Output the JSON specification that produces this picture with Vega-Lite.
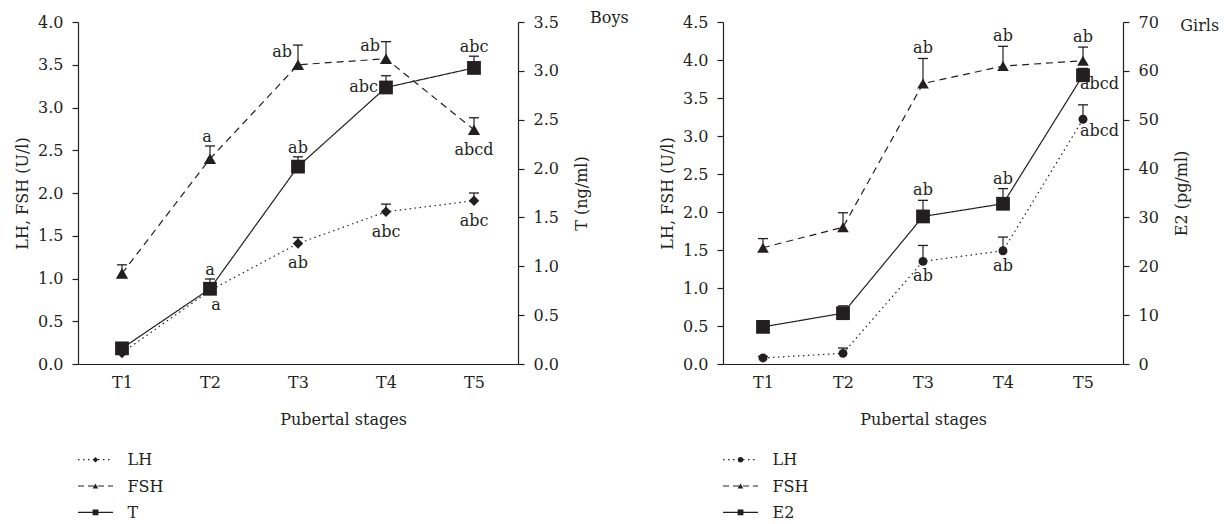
{
  "$schema": "https://vega.github.io/schema/vega-lite/v6.json",
  "padding": {"left": 14, "top": 10, "right": 5, "bottom": 0},
  "background": "white",
  "config": {
    "view": {"stroke": null},
    "font": "DejaVu Serif",
    "axis": {"labelFont": "DejaVu Serif", "labelFontSize": 16, "titleFont": "DejaVu Serif", "titleFontSize": 16, "titleFontWeight": "normal", "labelColor": "#231f20", "titleColor": "#231f20", "domainColor": "#231f20", "tickColor": "#231f20", "domainWidth": 1.2, "tickWidth": 1.2, "tickSize": 6, "labelPadding": 9, "grid": false},
    "text": {"font": "DejaVu Serif", "fontSize": 16, "color": "#231f20"},
    "title": {"font": "DejaVu Serif", "fontSize": 16, "fontWeight": "normal", "color": "#231f20"}
  },
  "datasets": {
    "boys": [
      {"stage": "T1", "series": "LH", "value": 0.13, "upper": 0.17, "label": ""},
      {"stage": "T2", "series": "LH", "value": 0.86, "upper": 0.9, "label": "a"},
      {"stage": "T3", "series": "LH", "value": 1.41, "upper": 1.48, "label": "ab"},
      {"stage": "T4", "series": "LH", "value": 1.78, "upper": 1.87, "label": "abc"},
      {"stage": "T5", "series": "LH", "value": 1.91, "upper": 2.0, "label": "abc"},
      {"stage": "T1", "series": "FSH", "value": 1.06, "upper": 1.16, "label": ""},
      {"stage": "T2", "series": "FSH", "value": 2.4, "upper": 2.55, "label": "a"},
      {"stage": "T3", "series": "FSH", "value": 3.5, "upper": 3.73, "label": "ab"},
      {"stage": "T4", "series": "FSH", "value": 3.57, "upper": 3.77, "label": "ab"},
      {"stage": "T5", "series": "FSH", "value": 2.74, "upper": 2.88, "label": "abcd"},
      {"stage": "T1", "series": "T", "value": 0.16, "upper": 0.2, "label": ""},
      {"stage": "T2", "series": "T", "value": 0.77, "upper": 0.87, "label": "a"},
      {"stage": "T3", "series": "T", "value": 2.02, "upper": 2.12, "label": "ab"},
      {"stage": "T4", "series": "T", "value": 2.83, "upper": 2.95, "label": "abc"},
      {"stage": "T5", "series": "T", "value": 3.03, "upper": 3.15, "label": "abc"}
    ],
    "girls": [
      {"stage": "T1", "series": "LH", "value": 0.08, "upper": 0.1, "label": ""},
      {"stage": "T2", "series": "LH", "value": 0.14, "upper": 0.21, "label": ""},
      {"stage": "T3", "series": "LH", "value": 1.35, "upper": 1.56, "label": "ab"},
      {"stage": "T4", "series": "LH", "value": 1.49, "upper": 1.67, "label": "ab"},
      {"stage": "T5", "series": "LH", "value": 3.22, "upper": 3.41, "label": "abcd"},
      {"stage": "T1", "series": "FSH", "value": 1.53, "upper": 1.65, "label": ""},
      {"stage": "T2", "series": "FSH", "value": 1.8, "upper": 1.99, "label": ""},
      {"stage": "T3", "series": "FSH", "value": 3.69, "upper": 4.02, "label": "ab"},
      {"stage": "T4", "series": "FSH", "value": 3.92, "upper": 4.18, "label": "ab"},
      {"stage": "T5", "series": "FSH", "value": 3.99, "upper": 4.17, "label": "ab"},
      {"stage": "T1", "series": "E2", "value": 7.6, "upper": 8.2, "label": ""},
      {"stage": "T2", "series": "E2", "value": 10.4, "upper": 11.9, "label": ""},
      {"stage": "T3", "series": "E2", "value": 30.2, "upper": 33.5, "label": "ab"},
      {"stage": "T4", "series": "E2", "value": 32.8, "upper": 35.9, "label": "ab"},
      {"stage": "T5", "series": "E2", "value": 59.1, "upper": 60.5, "label": "abcd"}
    ],
    "boysLegend": [{"series": "LH"}, {"series": "FSH"}, {"series": "T"}],
    "girlsLegend": [{"series": "LH"}, {"series": "FSH"}, {"series": "E2"}]
  },
  "bounds": "flush",
  "align": "all",
  "columns": 2,
  "spacing": {"row": 93, "column": 205},
  "resolve": {"scale": {"shape": "independent", "size": "independent", "strokeDash": "independent"}},
  "concat": [
    {
      "width": 440,
      "height": 342,
      "data": {"name": "boys"},
      "title": {"text": "Boys", "orient": "right", "anchor": "start", "angle": 0, "align": "left", "baseline": "alphabetic", "offset": -38, "dy": 9},
      "encoding": {
        "x": {"field": "stage", "type": "ordinal", "scale": {"type": "point", "padding": 0.5}, "axis": {"title": "Pubertal stages", "labelAngle": 0, "ticks": false, "labelPadding": 10, "titlePadding": 21, "titleX": 265}}
      },
      "layer": [
        {
          "transform": [{"filter": "datum.series != 'T'"}],
          "encoding": {
            "y": {"field": "value", "type": "quantitative", "scale": {"domain": [0, 4], "nice": false}, "axis": {"orient": "left", "title": "LH, FSH (U/l)", "values": [0, 0.5, 1, 1.5, 2, 2.5, 3, 3.5, 4], "format": ".1f", "titlePadding": 7}}
          },
          "layer": [
            {"mark": {"type": "line", "strokeWidth": 1.2, "color": "#231f20"}, "encoding": {"strokeDash": {"field": "series", "type": "nominal", "scale": {"domain": ["LH", "FSH", "T"], "range": [[1.5, 3.5], [7, 5], [1, 0]]}, "legend": null}}},
            {"mark": {"type": "rule", "strokeWidth": 1.2, "color": "#231f20"}, "encoding": {"y2": {"field": "upper"}}},
            {"mark": {"type": "tick", "size": 10, "thickness": 1.3, "color": "#231f20", "opacity": 1}, "encoding": {"y": {"field": "upper", "type": "quantitative"}}},
            {"mark": {"type": "point", "filled": true, "opacity": 1, "color": "#231f20"}, "encoding": {
              "shape": {"field": "series", "type": "nominal", "scale": {"domain": ["LH", "FSH", "T"], "range": ["diamond", "triangle-up", "square"]}, "legend": null},
              "size": {"field": "series", "type": "nominal", "scale": {"domain": ["LH", "FSH", "T"], "range": [110, 190, 160]}, "legend": null}}},
            {"transform": [{"filter": "datum.series == 'FSH' && datum.stage == 'T2'"}], "mark": {"type": "text", "baseline": "alphabetic", "dy": -4, "dx": -3}, "encoding": {"y": {"field": "upper", "type": "quantitative"}, "text": {"field": "label"}}},
            {"transform": [{"filter": "datum.series == 'FSH' && (datum.stage == 'T3' || datum.stage == 'T4')"}], "mark": {"type": "text", "baseline": "alphabetic", "align": "right", "dx": -6, "dy": -8}, "encoding": {"text": {"field": "label"}}},
            {"transform": [{"filter": "(datum.series == 'FSH' && datum.stage == 'T5') || (datum.series == 'LH' && (datum.stage == 'T3' || datum.stage == 'T4' || datum.stage == 'T5'))"}], "mark": {"type": "text", "baseline": "alphabetic", "dy": 25}, "encoding": {"text": {"field": "label"}}},
            {"transform": [{"filter": "datum.series == 'LH' && datum.stage == 'T2'"}], "mark": {"type": "text", "baseline": "alphabetic", "dx": 6, "dy": 20}, "encoding": {"text": {"field": "label"}}}
          ]
        },
        {
          "transform": [{"filter": "datum.series == 'T'"}],
          "encoding": {
            "y": {"field": "value", "type": "quantitative", "scale": {"domain": [0, 3.5], "nice": false}, "axis": {"orient": "right", "title": "T (ng/ml)", "titleAngle": 270, "titleBaseline": "top", "values": [0, 0.5, 1, 1.5, 2, 2.5, 3, 3.5], "format": ".1f", "titlePadding": 15}}
          },
          "layer": [
            {"mark": {"type": "line", "strokeWidth": 1.2, "color": "#231f20"}, "encoding": {"strokeDash": {"field": "series", "type": "nominal", "scale": {"domain": ["LH", "FSH", "T"], "range": [[1.5, 3.5], [7, 5], [1, 0]]}, "legend": null}}},
            {"mark": {"type": "rule", "strokeWidth": 1.2, "color": "#231f20"}, "encoding": {"y2": {"field": "upper"}}},
            {"mark": {"type": "tick", "size": 10, "thickness": 1.3, "color": "#231f20", "opacity": 1}, "encoding": {"y": {"field": "upper", "type": "quantitative"}}},
            {"mark": {"type": "point", "filled": true, "opacity": 1, "color": "#231f20"}, "encoding": {
              "shape": {"field": "series", "type": "nominal", "scale": {"domain": ["LH", "FSH", "T"], "range": ["diamond", "triangle-up", "square"]}, "legend": null},
              "size": {"field": "series", "type": "nominal", "scale": {"domain": ["LH", "FSH", "T"], "range": [110, 190, 160]}, "legend": null}}},
            {"transform": [{"filter": "datum.stage == 'T2' || datum.stage == 'T3' || datum.stage == 'T5'"}], "mark": {"type": "text", "baseline": "alphabetic", "dy": -4}, "encoding": {"y": {"field": "upper", "type": "quantitative"}, "text": {"field": "label"}}},
            {"transform": [{"filter": "datum.stage == 'T4'"}], "mark": {"type": "text", "baseline": "alphabetic", "align": "right", "dx": -8, "dy": 5}, "encoding": {"text": {"field": "label"}}}
          ]
        }
      ],
      "resolve": {"scale": {"y": "independent"}}
    },
    {
      "width": 400,
      "height": 342,
      "data": {"name": "girls"},
      "title": {"text": "Girls", "orient": "right", "anchor": "start", "angle": 0, "align": "left", "baseline": "alphabetic", "offset": -48, "dy": 17},
      "encoding": {
        "x": {"field": "stage", "type": "ordinal", "scale": {"type": "point", "padding": 0.5}, "axis": {"title": "Pubertal stages", "labelAngle": 0, "ticks": false, "labelPadding": 10, "titlePadding": 21}}
      },
      "layer": [
        {
          "transform": [{"filter": "datum.series != 'E2'"}],
          "encoding": {
            "y": {"field": "value", "type": "quantitative", "scale": {"domain": [0, 4.5], "nice": false}, "axis": {"orient": "left", "title": "LH, FSH (U/l)", "values": [0, 0.5, 1, 1.5, 2, 2.5, 3, 3.5, 4, 4.5], "format": ".1f", "titlePadding": 7}}
          },
          "layer": [
            {"mark": {"type": "line", "strokeWidth": 1.2, "color": "#231f20"}, "encoding": {"strokeDash": {"field": "series", "type": "nominal", "scale": {"domain": ["LH", "FSH", "E2"], "range": [[1.5, 3.5], [7, 5], [1, 0]]}, "legend": null}}},
            {"mark": {"type": "rule", "strokeWidth": 1.2, "color": "#231f20"}, "encoding": {"y2": {"field": "upper"}}},
            {"mark": {"type": "tick", "size": 10, "thickness": 1.3, "color": "#231f20", "opacity": 1}, "encoding": {"y": {"field": "upper", "type": "quantitative"}}},
            {"mark": {"type": "point", "filled": true, "opacity": 1, "color": "#231f20"}, "encoding": {
              "shape": {"field": "series", "type": "nominal", "scale": {"domain": ["LH", "FSH", "E2"], "range": ["circle", "triangle-up", "square"]}, "legend": null},
              "size": {"field": "series", "type": "nominal", "scale": {"domain": ["LH", "FSH", "E2"], "range": [80, 190, 160]}, "legend": null}}},
            {"transform": [{"filter": "datum.series == 'FSH' && (datum.stage == 'T3' || datum.stage == 'T4' || datum.stage == 'T5')"}], "mark": {"type": "text", "baseline": "alphabetic", "dy": -5}, "encoding": {"y": {"field": "upper", "type": "quantitative"}, "text": {"field": "label"}}},
            {"transform": [{"filter": "datum.series == 'LH' && (datum.stage == 'T3' || datum.stage == 'T4')"}], "mark": {"type": "text", "baseline": "alphabetic", "dy": 20}, "encoding": {"text": {"field": "label"}}},
            {"transform": [{"filter": "datum.series == 'LH' && datum.stage == 'T5'"}], "mark": {"type": "text", "baseline": "alphabetic", "align": "left", "dx": -3, "dy": 17}, "encoding": {"text": {"field": "label"}}}
          ]
        },
        {
          "transform": [{"filter": "datum.series == 'E2'"}],
          "encoding": {
            "y": {"field": "value", "type": "quantitative", "scale": {"domain": [0, 70], "nice": false}, "axis": {"orient": "right", "title": "E2 (pg/ml)", "titleAngle": 270, "titleBaseline": "top", "values": [0, 10, 20, 30, 40, 50, 60, 70], "format": "d", "titlePadding": 15}}
          },
          "layer": [
            {"mark": {"type": "line", "strokeWidth": 1.2, "color": "#231f20"}, "encoding": {"strokeDash": {"field": "series", "type": "nominal", "scale": {"domain": ["LH", "FSH", "E2"], "range": [[1.5, 3.5], [7, 5], [1, 0]]}, "legend": null}}},
            {"mark": {"type": "rule", "strokeWidth": 1.2, "color": "#231f20"}, "encoding": {"y2": {"field": "upper"}}},
            {"mark": {"type": "tick", "size": 10, "thickness": 1.3, "color": "#231f20", "opacity": 1}, "encoding": {"y": {"field": "upper", "type": "quantitative"}}},
            {"mark": {"type": "point", "filled": true, "opacity": 1, "color": "#231f20"}, "encoding": {
              "shape": {"field": "series", "type": "nominal", "scale": {"domain": ["LH", "FSH", "E2"], "range": ["circle", "triangle-up", "square"]}, "legend": null},
              "size": {"field": "series", "type": "nominal", "scale": {"domain": ["LH", "FSH", "E2"], "range": [80, 190, 160]}, "legend": null}}},
            {"transform": [{"filter": "datum.stage == 'T3' || datum.stage == 'T4'"}], "mark": {"type": "text", "baseline": "alphabetic", "dy": -5}, "encoding": {"y": {"field": "upper", "type": "quantitative"}, "text": {"field": "label"}}},
            {"transform": [{"filter": "datum.stage == 'T5'"}], "mark": {"type": "text", "baseline": "alphabetic", "align": "left", "dx": -3, "dy": 14}, "encoding": {"text": {"field": "label"}}}
          ]
        }
      ],
      "resolve": {"scale": {"y": "independent"}}
    },
    {
      "width": 35,
      "height": 58,
      "data": {"name": "boysLegend"},
      "encoding": {
        "y": {"field": "series", "type": "nominal", "sort": ["LH", "FSH", "T"], "scale": {"type": "point", "padding": 0.1}, "axis": {"orient": "right", "title": null, "domain": false, "ticks": false, "labelPadding": 14}}
      },
      "layer": [
        {"mark": {"type": "rule", "strokeWidth": 1.1, "color": "#231f20"}, "encoding": {
          "x": {"datum": 0, "type": "quantitative", "scale": {"domain": [0, 1]}, "axis": null},
          "x2": {"datum": 1},
          "strokeDash": {"field": "series", "type": "nominal", "scale": {"domain": ["LH", "FSH", "T"], "range": [[1.5, 3.5], [6, 4], [1, 0]]}, "legend": null}}},
        {"mark": {"type": "point", "filled": true, "opacity": 1, "color": "#231f20"}, "encoding": {
          "x": {"datum": 0.5, "type": "quantitative"},
          "shape": {"field": "series", "type": "nominal", "scale": {"domain": ["LH", "FSH", "T"], "range": ["diamond", "triangle-up", "square"]}, "legend": null},
          "size": {"field": "series", "type": "nominal", "scale": {"domain": ["LH", "FSH", "T"], "range": [30, 34, 36]}, "legend": null}}}
      ]
    },
    {
      "width": 35,
      "height": 58,
      "data": {"name": "girlsLegend"},
      "encoding": {
        "y": {"field": "series", "type": "nominal", "sort": ["LH", "FSH", "E2"], "scale": {"type": "point", "padding": 0.1}, "axis": {"orient": "right", "title": null, "domain": false, "ticks": false, "labelPadding": 14}}
      },
      "layer": [
        {"mark": {"type": "rule", "strokeWidth": 1.1, "color": "#231f20"}, "encoding": {
          "x": {"datum": 0, "type": "quantitative", "scale": {"domain": [0, 1]}, "axis": null},
          "x2": {"datum": 1},
          "strokeDash": {"field": "series", "type": "nominal", "scale": {"domain": ["LH", "FSH", "E2"], "range": [[1.5, 3.5], [6, 4], [1, 0]]}, "legend": null}}},
        {"mark": {"type": "point", "filled": true, "opacity": 1, "color": "#231f20"}, "encoding": {
          "x": {"datum": 0.5, "type": "quantitative"},
          "shape": {"field": "series", "type": "nominal", "scale": {"domain": ["LH", "FSH", "E2"], "range": ["circle", "triangle-up", "square"]}, "legend": null},
          "size": {"field": "series", "type": "nominal", "scale": {"domain": ["LH", "FSH", "E2"], "range": [30, 34, 36]}, "legend": null}}}
      ]
    }
  ]
}
